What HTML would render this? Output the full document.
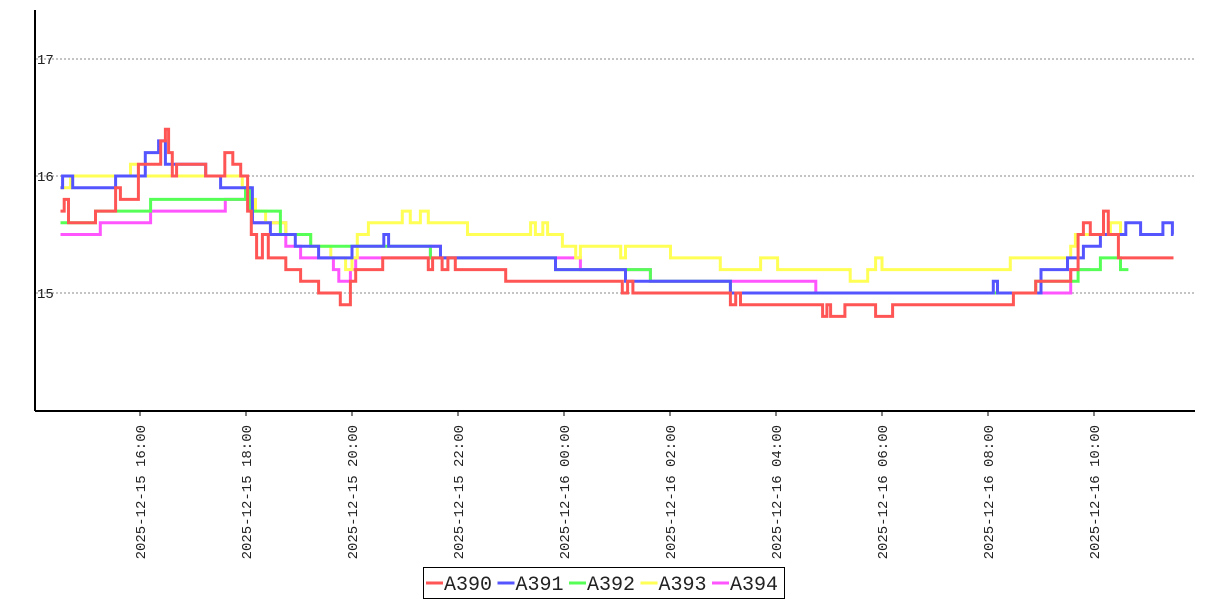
<!DOCTYPE html>
<html><head><meta charset="utf-8"><style>
html,body{margin:0;padding:0;background:#fff;width:1207px;height:600px;overflow:hidden}
svg{display:block}
text{font-family:"Liberation Mono","DejaVu Sans Mono",monospace}
</style></head><body>
<svg id="chart" width="1207" height="600" xmlns="http://www.w3.org/2000/svg"></svg>
<script>
// times are hours since 2025-12-15 00:00
const seriesNames = ["A390","A391","A392","A393","A394"];
const seriesColors = ["#f55","#55f","#5f5","#ff5","#f5f"];
const tA390 = [14.5,14.57,14.65,15.16,15.54,15.63,15.97,16.39,16.48,16.54,16.61,16.69,17.24,17.6,17.75,17.9,18.03,18.1,18.2,18.31,18.42,18.75,19.03,19.37,19.78,19.97,20.07,20.58,21.44,21.52,21.7,21.81,21.95,22.9,25.1,25.2,25.3,27.14,27.24,27.33,28.88,28.96,29.03,29.3,29.88,30.2,32.48,32.9,33.56,33.7,33.8,33.93,34.18,34.27,34.46,35.5];
const vA390 = [15.7,15.8,15.6,15.7,15.9,15.8,16.1,16.3,16.4,16.2,16.0,16.1,16.0,16.2,16.1,16.0,15.7,15.5,15.3,15.5,15.3,15.2,15.1,15.0,14.9,15.1,15.2,15.3,15.2,15.3,15.2,15.3,15.2,15.1,15.0,15.1,15.0,14.9,15.0,14.9,14.8,14.9,14.8,14.9,14.8,14.9,15.0,15.1,15.2,15.5,15.6,15.5,15.7,15.5,15.3,15.3];
const tA391 = [14.5,14.54,14.73,15.54,16.1,16.35,16.48,17.24,17.52,18.12,18.46,18.93,19.37,20.0,20.6,20.69,21.67,23.84,25.16,27.14,32.1,32.18,33.0,33.5,33.8,34.12,34.6,34.88,35.3,35.48,35.5];
const vA391 = [15.9,16.0,15.9,16.0,16.2,16.3,16.1,16.0,15.9,15.6,15.5,15.4,15.3,15.4,15.5,15.4,15.3,15.2,15.1,15.0,15.1,15.0,15.2,15.3,15.4,15.5,15.6,15.5,15.6,15.5,15.5];
const tA392 = [14.5,15.16,16.2,17.99,18.08,18.65,19.22,21.48,23.84,25.63,27.14,32.9,33.7,34.12,34.5,34.65];
const vA392 = [15.6,15.7,15.8,15.9,15.7,15.5,15.4,15.3,15.2,15.1,15.0,15.1,15.2,15.3,15.2,15.2];
const tA393 = [14.5,14.69,15.82,15.97,17.93,18.05,18.18,18.37,18.75,19.22,19.6,19.88,20.0,20.1,20.31,20.95,21.1,21.29,21.44,22.18,23.37,23.46,23.6,23.69,23.97,24.22,24.31,25.07,25.16,26.01,26.95,27.71,28.03,29.4,29.73,29.88,30.0,32.42,33.56,33.65,34.31,34.5,34.6];
const vA393 = [15.9,16.0,16.1,16.0,15.9,15.8,15.7,15.6,15.5,15.4,15.3,15.2,15.3,15.5,15.6,15.7,15.6,15.7,15.6,15.5,15.6,15.5,15.6,15.5,15.4,15.3,15.4,15.3,15.4,15.3,15.2,15.3,15.2,15.1,15.2,15.3,15.2,15.3,15.4,15.5,15.6,15.5,15.5];
const tA394 = [14.5,15.25,16.2,17.61,18.12,18.75,19.03,19.65,19.75,19.97,20.07,21.48,21.67,24.31,25.63,28.75,33.56,33.93];
const vA394 = [15.5,15.6,15.7,15.8,15.6,15.4,15.3,15.2,15.1,15.2,15.3,15.4,15.3,15.2,15.1,15.0,15.2,15.2];
const yTicks = [15,16,17];
const xTickHours = [16,18,20,22,24,26,28,30,32,34];
const xTickLabels = ["2025-12-15 16:00","2025-12-15 18:00","2025-12-15 20:00","2025-12-15 22:00","2025-12-16 00:00","2025-12-16 02:00","2025-12-16 04:00","2025-12-16 06:00","2025-12-16 08:00","2025-12-16 10:00"];

const NS="http://www.w3.org/2000/svg";
const svg=document.getElementById('chart');
function el(tag,attrs,parent){const e=document.createElementNS(NS,tag);for(const k in attrs)e.setAttribute(k,attrs[k]);(parent||svg).appendChild(e);return e;}
const X=h=>140+(h-16)*53;
const Y=v=>293-(v-15)*117;

for(const v of yTicks){
  const g=el('line',{x1:36,x2:1195,y1:Y(v),y2:Y(v),stroke:'#888','stroke-dasharray':'2,2','stroke-width':1});
  
  
  const t=el('text',{x:37,y:Y(v)+5,'font-size':14,fill:'#222'});
  t.textContent=String(v);
  
  
}
const ya=el('line',{x1:35,x2:35,y1:10,y2:411,stroke:'#000','stroke-width':2});


const xa=el('line',{x1:35,x2:1195,y1:411,y2:411,stroke:'#000','stroke-width':2});


xTickHours.forEach((h,i)=>{
  const tk=el('line',{x1:X(h),x2:X(h),y1:411,y2:416,stroke:'#000'});
  
  
  const t=el('text',{x:0,y:0,'font-size':14,fill:'#222','text-anchor':'end',transform:`translate(${X(h)+5},${425}) rotate(-90)`});
  t.textContent=xTickLabels[i];
  
  
});
const data={A390:[tA390,vA390],A391:[tA391,vA391],A392:[tA392,vA392],A393:[tA393,vA393],A394:[tA394,vA394]};
[4,3,2,1,0].forEach(i=>{
  const [ts,vs]=data[seriesNames[i]];
  let d='M'+X(ts[0])+','+Y(vs[0]);
  for(let k=1;k<ts.length;k++){d+=' H'+X(ts[k]).toFixed(1)+' V'+Y(vs[k]).toFixed(1);}
  const p=el('path',{d:d,fill:'none',stroke:seriesColors[i],'stroke-width':3});
  
  
});
// legend
const lg=el('g',{});


el('rect',{x:423.5,y:567.5,width:361,height:31,fill:'#fff',stroke:'#000'},lg);
seriesNames.forEach((n,i)=>{
  const x0=426+i*71.5;
  const g=el('g',{},lg);
  
  
  el('line',{x1:x0,x2:x0+17,y1:583,y2:583,stroke:seriesColors[i],'stroke-width':3},g);
  const t=el('text',{x:x0+18,y:590,'font-size':20,fill:'#222','font-family':'Liberation Serif, serif'},g);
  t.textContent=n;
});
</script>
</body></html>
